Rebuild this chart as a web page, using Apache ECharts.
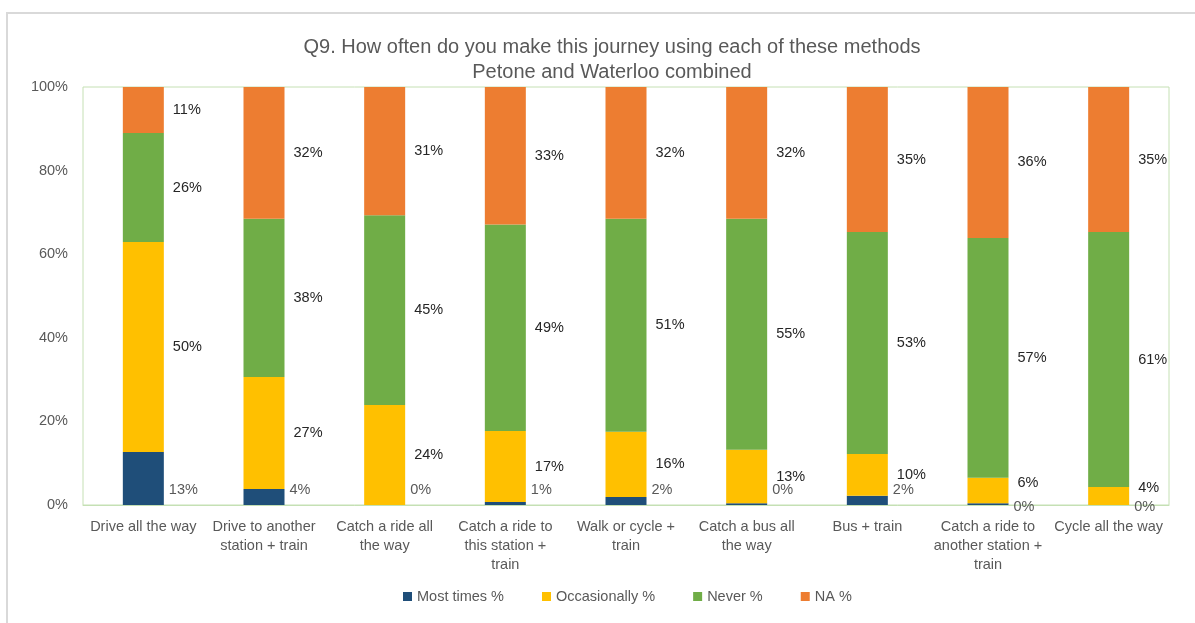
<!DOCTYPE html>
<html>
<head>
<meta charset="utf-8">
<title>Q9. How often do you make this journey using each of these methods</title>
<script src="https://cdn.jsdelivr.net/npm/echarts@6/dist/echarts.min.js"></script>
<style>
  html, body { margin: 0; padding: 0; background: #ffffff; }
  #chart { width: 1195px; height: 623px; }
</style>
</head>
<body>
<div id="chart"></div>
<script>
// Survey answers per travel method, as percentages of respondents
const categories = [
  'Drive all the way',
  'Drive to another\nstation + train',
  'Catch a ride all\nthe way',
  'Catch a ride to\nthis station +\ntrain',
  'Walk or cycle +\ntrain',
  'Catch a bus all\nthe way',
  'Bus + train',
  'Catch a ride to\nanother station +\ntrain',
  'Cycle all the way'
];
const seriesNames = ['Most times %', 'Occasionally %', 'Never %', 'NA %'];
const mostTimes     = [12.7, 3.8, 0, 0.7, 1.9, 0.4, 2.2, 0.4, 0];
const occasionally  = [50.2, 26.8, 23.9, 17.0, 15.6, 12.8, 10.0, 6.1, 4.3];
const never         = [26.1, 37.9, 45.4, 49.4, 51.0, 55.3, 53.1, 57.4, 61.0];
const notApplicable = [11.0, 31.5, 30.7, 32.9, 31.5, 31.5, 34.7, 36.1, 34.7];
const yTicks = [0, 20, 40, 60, 80, 100];

const colors = ['#1F4E79', '#FFC000', '#70AD47', '#ED7D31'];
const FONT = '"Liberation Sans", Arial, sans-serif';
const SIZE = 14.5;

const chart = echarts.init(document.getElementById('chart'), null, { renderer: 'canvas' });

// labels show whole percentages
function pct(p) { return Math.round(p.value) + '%'; }

function makeSeries(name, data, color, extra) {
  return Object.assign({
    name: name,
    type: 'bar',
    stack: 'total',
    data: data,
    barWidth: 41,
    itemStyle: { color: color },
    label: {
      show: true,
      position: 'right',
      distance: 9,
      formatter: pct,
      color: '#262626',
      fontFamily: FONT,
      fontSize: SIZE
    },
    emphasis: { disabled: true }
  }, extra || {});
}

const option = {
  backgroundColor: '#ffffff',
  animation: false,
  color: colors,
  title: {
    text: 'Q9. How often do you make this journey using each of these methods\nPetone and Waterloo combined',
    left: 607,
    textAlign: 'center',
    top: 30,
    textStyle: {
      color: '#595959',
      fontFamily: FONT,
      fontSize: 20,
      fontWeight: 'normal',
      lineHeight: 25
    }
  },
  legend: {
    left: 398,
    top: 584,
    icon: 'rect',
    itemWidth: 9,
    itemHeight: 9,
    itemGap: 38,
    data: seriesNames,
    textStyle: { color: '#595959', fontFamily: FONT, fontSize: SIZE }
  },
  grid: {
    left: 83,
    right: 26,
    top: 87,
    bottom: 118,
    show: true,
    borderColor: '#C5E0B4',
    borderWidth: 1,
    backgroundColor: 'transparent'
  },
  xAxis: {
    type: 'category',
    data: categories,
    axisLine: { show: true, lineStyle: { color: '#C5E0B4' } },
    axisTick: { show: false },
    axisLabel: {
      color: '#595959',
      fontFamily: FONT,
      fontSize: SIZE,
      lineHeight: 19,
      margin: 12,
      interval: 0
    }
  },
  yAxis: {
    type: 'value',
    min: 0,
    max: 100,
    interval: 20,
    axisLine: { show: false },
    axisTick: { show: false },
    splitLine: { show: false },
    axisLabel: {
      color: '#595959',
      fontFamily: FONT,
      fontSize: SIZE,
      margin: 15,
      formatter: function (v) { return yTicks.indexOf(v) >= 0 ? v + '%' : ''; }
    }
  },
  graphic: [{
    type: 'rect',
    silent: true,
    shape: { x: 7, y: 13, width: 1400, height: 800 },
    style: { fill: 'none', stroke: '#D9D9D9', lineWidth: 2 }
  }],
  series: [
    makeSeries(seriesNames[0], mostTimes, colors[0], {
      label: {
        show: true, position: 'right', distance: 5, formatter: pct,
        color: '#595959', fontFamily: FONT, fontSize: SIZE
      },
      // keep the small "most times" labels near the axis, clear of the label above
      labelLayout: function (p) {
        const bottom = p.rect.y + p.rect.height;
        const occ = occasionally[p.dataIndex];
        return { y: occ < 8 ? bottom + 2 : bottom - 15, verticalAlign: 'middle' };
      }
    }),
    makeSeries(seriesNames[1], occasionally, colors[1], {
      labelLayout: function (p) {
        return occasionally[p.dataIndex] < 8 ? { dy: -8 } : {};
      }
    }),
    makeSeries(seriesNames[2], never, colors[2]),
    makeSeries(seriesNames[3], notApplicable, colors[3])
  ]
};

chart.setOption(option);
</script>
</body>
</html>
